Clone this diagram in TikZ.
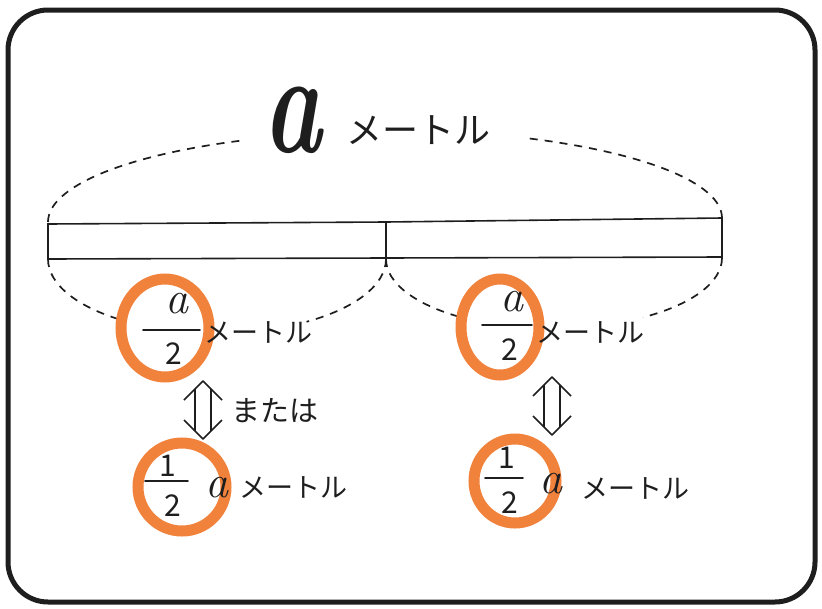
\documentclass[tikz,border=0pt]{standalone}
\usepackage{fontspec}
\newfontfamily\jp{Noto Sans CJK JP}
\definecolor{ringor}{RGB}{241,130,60}
\definecolor{ink}{RGB}{30,30,30}
\begin{document}
\begin{tikzpicture}[x=1pt,y=-1pt,
  frame/.style={line width=5pt, draw=ink, rounded corners=40pt},
  ring/.style={draw=ringor, line width=11pt},
  dashline/.style={draw=ink, dash pattern=on 8pt off 7pt, line width=1.7pt},
  barline/.style={draw=ink, line width=1.6pt},
  fracbar/.style={draw=ink, line width=1.6pt, line cap=round},
  jpbig/.style={font={\jp\fontsize{36}{36}\selectfont}, inner sep=0, text=ink},
  jpsmall/.style={font={\jp\fontsize{27}{27}\selectfont}, inner sep=0, text=ink},
  jpmid/.style={font={\jp\fontsize{29}{29}\selectfont}, inner sep=0, text=ink},
  num/.style={font={\jp\fontsize{30}{30}\selectfont}, inner sep=0, text=ink},
  avar/.style={font={\fontsize{46}{46}\selectfont\itshape}, inner sep=0, text=ink},
  updown/.pic={
    \draw[line width=1.5pt, line join=round, draw=ink] (-19,-9)--(0,-28)--(19,-9) (-19,11)--(0,30)--(19,11);
    \draw[line width=1.5pt, draw=ink] (-8,-20)--(-8,22) (8,-20)--(8,22);
  }]
\useasboundingbox (0,0) rectangle (822,608);
% frame
\draw[frame] (8,10) rectangle (815,602);
% bar
\draw[barline] (48,224) -- (386,222) -- (722,218) -- (722,257) -- (386,258) -- (48,259) -- cycle;
\draw[barline] (386,222) -- (386,258);
% top dashed arc
\draw[dashline] (48,222) arc[start angle=180, end angle=244.6, x radius=337, y radius=90];
\draw[dashline] (722,218) arc[start angle=360, end angle=294.5, x radius=337, y radius=88];
% lower dashed arcs
\draw[dashline] (48,259) arc[start angle=180, end angle=124, x radius=169, y radius=74];
\draw[dashline] (386,259) arc[start angle=0, end angle=58, x radius=169, y radius=74];
\draw[dashline] (386,259) arc[start angle=180, end angle=123, x radius=168, y radius=70];
\draw[dashline] (722,258) arc[start angle=0, end angle=58, x radius=168, y radius=70];
% top label
\node[inner sep=0, text=ink, xscale=0.68, font={\fontsize{145}{145}\selectfont\bfseries\itshape}] (topa) at (293,120) {a};
\node[jpbig] (topm) at (418,130) {メートル};
% orange rings
\draw[ring] (165,328) ellipse[x radius=44, y radius=49];
\draw[ring] (500,327) ellipse[x radius=39, y radius=48];
\draw[ring] (182,487) ellipse[x radius=44, y radius=44];
\draw[ring] (515,481) ellipse[x radius=41, y radius=42];
% left a/2
\node[avar] (la) at (177,304) {a};
\draw[fracbar] (143,330) -- (200,330);
\node[num] (l2) at (174,354) {2};
\node[jpsmall] (lm) at (258,332) {メートル};
% right a/2
\node[avar] (ra) at (512,302) {a};
\draw[fracbar] (482,325) -- (532,325);
\node[num] (r2) at (510,350) {2};
\node[jpsmall] (rm) at (590,332) {メートル};
% arrows
\pic at (203,409) {updown};
\node[jpmid] (mata) at (275,411) {または};
\pic at (552,405) {updown};
% bottom left 1/2 a
\node[num] (bl1) at (168,466) {1};
\draw[fracbar] (145,481) -- (188,481);
\node[num] (bl2) at (173,506) {2};
\node[avar] (bla) at (217,488) {a};
\node[jpsmall] (blm) at (293,487) {メートル};
% bottom right 1/2 a
\node[num] (br1) at (507,458) {1};
\draw[fracbar] (485,478) -- (523,478);
\node[num] (br2) at (510,503) {2};
\node[avar] (bra) at (551,484) {a};
\node[jpsmall] (brm) at (635,488) {メートル};
\end{tikzpicture}
\end{document}
